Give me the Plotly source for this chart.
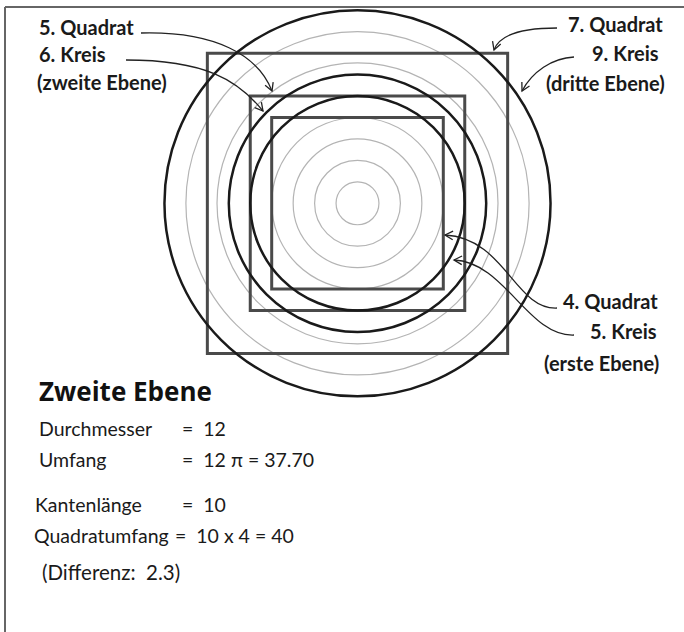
import math
import plotly.graph_objects as go

W, H = 684, 632
# geometry (in length units)
CX_PX, CY_PX, UNIT_PX = 357.5, 203.3, 21.45
grey_radii = [1, 2, 3, 4, 5, 6, 6.55, 8]
black_radii = [5, 6, 9]
square_halves = [4, 5, 7]

# labels: (text, x_px, y_px, anchor)
top_labels = [
    ("5. Quadrat", 37, 27, "left"), ("6. Kreis", 37, 54, "left"), ("(zweite Ebene)", 35, 82, "left"),
    ("7. Quadrat", 665, 24, "right"), ("9. Kreis", 661, 53, "right"), ("(dritte Ebene)", 667, 83, "right"),
    ("4. Quadrat", 660, 301, "right"), ("5. Kreis", 659, 331, "right"), ("(erste Ebene)", 661, 363, "right"),
]
# leader curves: start, c1, c2, tip (px)
leaders = [
    [(141, 33), (215, 31), (258, 55), (272, 91)],
    [(126, 60), (205, 60), (238, 80), (263, 111)],
    [(557, 28), (528, 28), (500, 33), (494, 50)],
    [(574, 57), (552, 58), (532, 72), (522, 91)],
    [(557, 308), (515, 310), (505, 238), (445, 235)],
    [(574, 335), (528, 337), (505, 262), (454, 260)],
]
heading = "Zweite Ebene"
rows_left = ["Durchmesser", "Umfang", "Kantenlänge", "Quadratumfang"]
rows_right = ["=  12", "=  12 π = 37.70", "=  10", "=  10 x 4 = 40"]
rows_y = [429, 459, 504, 535]
rows_xl = [37, 37, 33, 32]
rows_xr = [180, 180, 180, 173]
diff_text = "(Differenz:  2.3)"


def px(x, y):
    return x / W, 1 - y / H


fig = go.Figure()
shapes = []
for r in grey_radii:
    shapes.append(dict(type="circle", x0=-r, x1=r, y0=-r, y1=r, line=dict(color="#b4b4b4", width=1.2)))
for h in square_halves:
    shapes.append(dict(type="rect", x0=-h, x1=h, y0=-h, y1=h, line=dict(color="#4a4a4a", width=3)))
for r in black_radii:
    shapes.append(dict(type="circle", x0=-r, x1=r, y0=-r, y1=r, line=dict(color="#1a1a1a", width=2.5)))

for pts in leaders:
    p = [px(*q) for q in pts]
    path = "M{},{} C{},{} {},{} {},{}".format(p[0][0], p[0][1], p[1][0], p[1][1], p[2][0], p[2][1], p[3][0], p[3][1])
    shapes.append(dict(type="path", xref="paper", yref="paper", path=path, line=dict(color="#222", width=1.3)))
    (tx, ty), (cx2, cy2) = pts[3], pts[2]
    ang = math.atan2(ty - cy2, tx - cx2)
    a = [px(tx - 9 * math.cos(ang + d), ty - 9 * math.sin(ang + d)) for d in (0.5, -0.5)]
    t = px(tx, ty)
    shapes.append(dict(type="path", xref="paper", yref="paper",
                       path="M{},{} L{},{} L{},{}".format(a[0][0], a[0][1], t[0], t[1], a[1][0], a[1][1]),
                       line=dict(color="#222", width=1.3)))

# frame (top and left)
fx, fy = px(5, 7)
shapes.append(dict(type="line", xref="paper", yref="paper", x0=fx, x1=1.01, y0=fy, y1=fy, line=dict(color="#666", width=2)))
shapes.append(dict(type="line", xref="paper", yref="paper", x0=fx, x1=fx, y0=fy, y1=-0.01, line=dict(color="#666", width=2)))

lab_font = dict(family="Lato, sans-serif", size=20, color="#1a1a1a")
ann = []
for txt, x, y, anc in top_labels:
    X, Y = px(x, y)
    ann.append(dict(text="<b>" + txt + "</b>", x=X, y=Y, xref="paper", yref="paper", xanchor=anc, yanchor="middle",
                    showarrow=False, font=lab_font))
X, Y = px(37, 391)
ann.append(dict(text="<b>" + heading + "</b>", x=X, y=Y, xref="paper", yref="paper", xanchor="left", yanchor="middle",
                showarrow=False, font=dict(family="Open Sans, sans-serif", size=26, color="#111")))
body_font = dict(family="Lato, sans-serif", size=19.5, color="#1a1a1a")
for l, r, y, xl, xr in zip(rows_left, rows_right, rows_y, rows_xl, rows_xr):
    X, Y = px(xl, y)
    ann.append(dict(text=l, x=X, y=Y, xref="paper", yref="paper", xanchor="left", yanchor="middle", showarrow=False,
                    font=body_font))
    X, Y = px(xr, y)
    ann.append(dict(text=r, x=X, y=Y, xref="paper", yref="paper", xanchor="left", yanchor="middle", showarrow=False,
                    font=body_font))
X, Y = px(40, 572)
ann.append(dict(text=diff_text, x=X, y=Y, xref="paper", yref="paper", xanchor="left", yanchor="middle", showarrow=False,
                font=dict(family="Lato, sans-serif", size=20.5, color="#1a1a1a")))

fig.update_layout(
    width=W, height=H, margin=dict(l=0, r=0, t=0, b=0),
    paper_bgcolor="white", plot_bgcolor="white", showlegend=False,
    xaxis=dict(range=[-CX_PX / UNIT_PX, (W - CX_PX) / UNIT_PX], visible=False, fixedrange=True),
    yaxis=dict(range=[-(H - CY_PX) / UNIT_PX, CY_PX / UNIT_PX], visible=False, fixedrange=True),
    shapes=shapes, annotations=ann,
)
fig.write_html("out.html", config={"displayModeBar": False},
               post_script="document.body.style.margin='0px';document.body.style.overflow='hidden';")
